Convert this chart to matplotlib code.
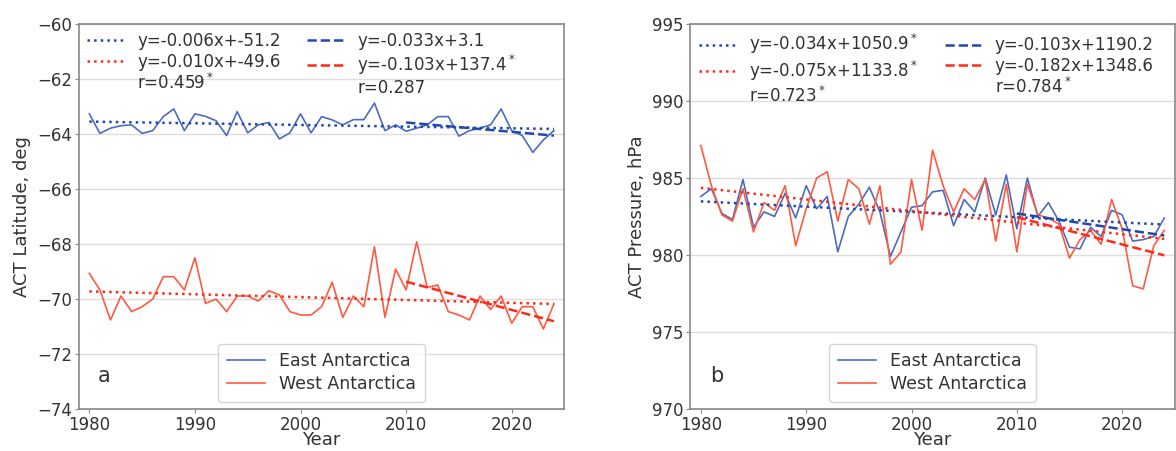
import numpy as np
import matplotlib
matplotlib.use('Agg')
import matplotlib.pyplot as plt
from matplotlib.lines import Line2D

years = np.arange(1980, 2025)

# ACT latitude (deg)
lat_east = [-63.27, -63.98, -63.79, -63.70, -63.67, -63.98, -63.88, -63.37, -63.09, -63.88,
            -63.27, -63.36, -63.52, -64.06, -63.19, -63.96, -63.67, -63.58, -64.18, -63.96,
            -63.27, -63.96, -63.37, -63.49, -63.67, -63.48, -63.48, -62.88, -63.88, -63.67,
            -63.90, -63.79, -63.67, -63.37, -63.37, -64.08, -63.88, -63.79, -63.67, -63.09,
            -63.88, -64.06, -64.67, -64.22, -63.88]
lat_west = [-69.07, -69.67, -70.76, -69.89, -70.46, -70.28, -70.00, -69.19, -69.19, -69.67,
            -68.50, -70.16, -70.00, -70.46, -69.89, -69.89, -70.07, -69.70, -69.85, -70.46,
            -70.58, -70.58, -70.28, -69.39, -70.67, -69.89, -70.28, -68.10, -70.67, -68.91,
            -69.67, -67.92, -69.58, -69.49, -70.46, -70.58, -70.76, -69.89, -70.38, -69.89,
            -70.88, -70.28, -70.28, -71.09, -70.18]

# ACT pressure (hPa)
pres_east = [983.8, 984.3, 982.7, 982.3, 984.9, 981.8, 982.8, 982.5, 984.0, 982.4,
             984.5, 983.0, 983.8, 980.2, 982.5, 983.3, 984.4, 982.8, 979.9, 981.5,
             983.1, 983.2, 984.1, 984.2, 981.9, 983.6, 982.8, 985.0, 982.6, 985.2,
             981.7, 985.0, 982.5, 983.4, 982.2, 980.5, 980.4, 981.8, 981.2, 982.9,
             982.6, 980.9, 981.0, 981.2, 982.4]
pres_west = [987.1, 984.5, 982.6, 982.2, 984.3, 981.5, 983.4, 982.9, 984.5, 980.6,
             983.0, 985.0, 985.4, 982.2, 984.9, 984.3, 982.0, 984.5, 979.4, 980.2,
             984.9, 981.6, 986.8, 984.5, 982.8, 984.3, 983.6, 984.9, 980.9, 984.6,
             980.2, 984.6, 982.6, 982.4, 982.0, 979.8, 981.0, 981.6, 980.7, 983.6,
             981.7, 978.0, 977.8, 980.6, 981.6]

lat_labels = [['y=-0.006x+-51.2', 'y=-0.010x+-49.6', 'r=0.459$^*$'],
              ['y=-0.033x+3.1', 'y=-0.103x+137.4$^*$', 'r=0.287']]
pres_labels = [['y=-0.034x+1050.9$^*$', 'y=-0.075x+1133.8$^*$', 'r=0.723$^*$'],
               ['y=-0.103x+1190.2', 'y=-0.182x+1348.6', 'r=0.784$^*$']]

c_east, c_west = '#4a6cc0', '#ff5a40'
c_east_tr, c_west_tr = '#2048b0', '#ff2a1a'

plt.rcParams['font.family'] = 'DejaVu Sans'
plt.rcParams['text.color'] = '#333333'
plt.rcParams['axes.labelcolor'] = '#333333'
plt.rcParams['xtick.color'] = '#333333'
plt.rcParams['ytick.color'] = '#333333'

fig = plt.figure(figsize=(11.76, 4.51), dpi=100)
ax1 = fig.add_axes([0.067, 0.093, 0.413, 0.854])
ax2 = fig.add_axes([0.587, 0.093, 0.412, 0.854])


def trend(ax, x, y, color, ls):
    k, b = np.polyfit(x, y, 1)
    ax.plot(x, k * np.asarray(x) + b, color=color, ls=ls, lw=1.8)


def panel(ax, east, west, labels, ylim, yticks, ylabel, tag):
    ax.plot(years, east, color=c_east, lw=1.2)
    ax.plot(years, west, color=c_west, lw=1.2)
    e = np.array(east)
    w = np.array(west)
    late = years >= 2010
    trend(ax, years, e, c_east_tr, ':')
    trend(ax, years, w, c_west_tr, ':')
    trend(ax, years[late], e[late], c_east_tr, '--')
    trend(ax, years[late], w[late], c_west_tr, '--')

    ax.set_xlim(1979, 2025)
    ax.set_ylim(*ylim)
    ax.set_yticks(yticks)
    ax.set_xticks([1980, 1990, 2000, 2010, 2020])
    ax.yaxis.grid(True, color='#dddddd', lw=1)
    ax.set_axisbelow(True)
    for s in ax.spines.values():
        s.set_color('#888888')
        s.set_linewidth(1.2)
    ax.tick_params(labelsize=12, length=3, color='#888888', pad=2)
    ax.set_xlabel('Year', fontsize=13, labelpad=-2)
    ax.set_ylabel(ylabel, fontsize=13, labelpad=4)
    ax.text(0.04, 0.07, tag, transform=ax.transAxes, fontsize=15)

    blank = Line2D([], [], color='none')
    handles = [Line2D([], [], color=c_east_tr, ls=':', lw=1.8),
               Line2D([], [], color=c_west_tr, ls=':', lw=1.8), blank,
               Line2D([], [], color=c_east_tr, ls='--', lw=1.8),
               Line2D([], [], color=c_west_tr, ls='--', lw=1.8), blank]
    leg = ax.legend(handles, labels[0] + labels[1], ncol=2, loc='upper left',
                    frameon=False, fontsize=12, handlelength=2.2,
                    handletextpad=0.8, columnspacing=1.6, labelspacing=0.15,
                    borderaxespad=0.1)
    ax.add_artist(leg)
    ax.legend([Line2D([], [], color=c_east, lw=1.2), Line2D([], [], color=c_west, lw=1.2)],
              ['East Antarctica', 'West Antarctica'], loc='lower center',
              fontsize=12.5, handlelength=2.2, borderaxespad=0.4, fancybox=True,
              edgecolor='#cccccc', labelspacing=0.3, borderpad=0.5)


panel(ax1, lat_east, lat_west, lat_labels, (-74, -60), np.arange(-74, -59, 2),
      'ACT Latitude, deg', 'a')
panel(ax2, pres_east, pres_west, pres_labels, (970, 995), np.arange(970, 996, 5),
      'ACT Pressure, hPa', 'b')

fig.savefig('out.png', dpi=100)
